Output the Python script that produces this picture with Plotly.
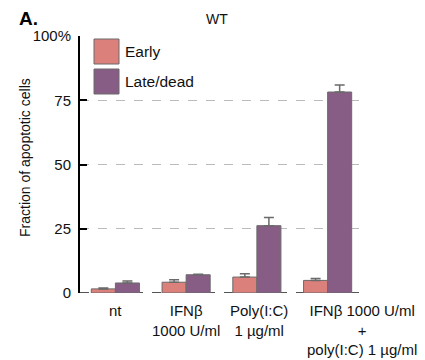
import plotly.graph_objects as go

categories = ["nt", "IFNβ<br>1000 U/ml", "Poly(I:C)<br>1 µg/ml",
              "IFNβ 1000 U/ml<br>+<br>poly(I:C) 1 µg/ml"]
early = [1.6, 4.2, 6.2, 4.9]
early_err = [0.3, 1.0, 1.3, 0.7]
late = [3.9, 7.1, 26.2, 78.2]
late_err = [0.8, 0.2, 3.2, 2.7]
tick_vals = [0, 25, 50, 75, 100]
tick_text = ["0", "25", "50", "75", "100%"]
label_shift = [0, 0, 2, 34]

FONT = "Liberation Sans, Arial, sans-serif"
C_EARLY = "#DB807B"
C_LATE = "#875D85"

# page offset (body margin) compensation
OFF = 8
PL, PR, PT, PB = 80, 363, 36, 293
PW, PH = PR - PL, PB - PT


def px(x):
    return (x - PL) / PW


def py(y):
    return (PB - y) / PH


fig = go.Figure()
fig.add_trace(go.Bar(x=categories, y=early, name="Early", marker_color=C_EARLY,
                     marker_line=dict(color="#6a6a6a", width=1),
                     error_y=dict(type="data", array=early_err, symmetric=False,
                                  arrayminus=[0]*4, color="#6a6a6a", thickness=1.5, width=5),
                     showlegend=False))
fig.add_trace(go.Bar(x=categories, y=late, name="Late/dead", marker_color=C_LATE,
                     marker_line=dict(color="#6a6a6a", width=1),
                     error_y=dict(type="data", array=late_err, symmetric=False,
                                  arrayminus=[0]*4, color="#6a6a6a", thickness=1.5, width=5),
                     showlegend=False))

# category labels
for i, (cat, sh) in enumerate(zip(categories, label_shift)):
    fig.add_annotation(text=cat, x=i, xref="x", yref="paper", y=py(300),
                       xanchor="center", yanchor="top", xshift=sh, align="center",
                       showarrow=False, font=dict(size=15, color="#111", family=FONT))

# legend boxes
for i, (lab, col) in enumerate([("Early", C_EARLY), ("Late/dead", C_LATE)]):
    y0 = 39 + i * 30
    fig.add_shape(type="rect", xref="paper", yref="paper",
                  x0=px(94), x1=px(119), y0=py(y0 + 25), y1=py(y0),
                  fillcolor=col, line=dict(color="#6a6a6a", width=1))
    fig.add_annotation(text=lab, xref="paper", yref="paper",
                       x=px(123), y=py(y0 + 12.5),
                       xanchor="left", yanchor="middle", showarrow=False,
                       font=dict(size=15.5, color="#111", family=FONT))

# zero baseline dashed
fig.add_shape(type="line", xref="paper", yref="y", x0=0, x1=1, y0=0, y1=0,
              line=dict(color="#555", width=2, dash="dash"), layer="below")

fig.add_annotation(text="<b>A.</b>", xref="paper", yref="paper", x=px(17),
                   y=py(18), xanchor="left", yanchor="middle",
                   showarrow=False, font=dict(size=19, color="#000", family=FONT))
fig.add_annotation(text="Fraction of apoptotic cells", xref="paper", yref="paper",
                   x=px(25), y=py(158), xanchor="center", yanchor="middle",
                   textangle=-90, showarrow=False,
                   font=dict(size=14, color="#111", family=FONT))

W, H = 425 - OFF, 360 - OFF
fig.update_layout(
    width=W, height=H,
    margin=dict(l=PL - OFF, r=425 - PR, t=PT - OFF, b=360 - PB),
    paper_bgcolor="white", plot_bgcolor="white",
    barmode="group", bargap=0.32, bargroupgap=0,
    title=dict(text="WT", x=(217 - OFF) / W, xanchor="center", y=1 - (19 - OFF) / H,
               yanchor="middle", font=dict(size=14, color="#111", family=FONT)),
    font=dict(family=FONT, size=14, color="#111"),
    xaxis=dict(showline=False, ticks="", showticklabels=False, type="category",
               categoryorder="array", categoryarray=categories,
               range=[-0.5, len(categories) - 0.5],
               showgrid=False, automargin=False),
    yaxis=dict(range=[0, 100], tickvals=tick_vals, ticktext=tick_text,
               showline=True, linecolor="black", linewidth=2,
               ticks="inside", ticklen=7, tickwidth=2, tickcolor="black",
               showgrid=True, gridcolor="#bbbbbb", griddash="dash", gridwidth=1,
               zeroline=False, tickfont=dict(size=15, color="#111"),
               ticklabelstandoff=4, automargin=False),
)

fig.write_html("out.html")
